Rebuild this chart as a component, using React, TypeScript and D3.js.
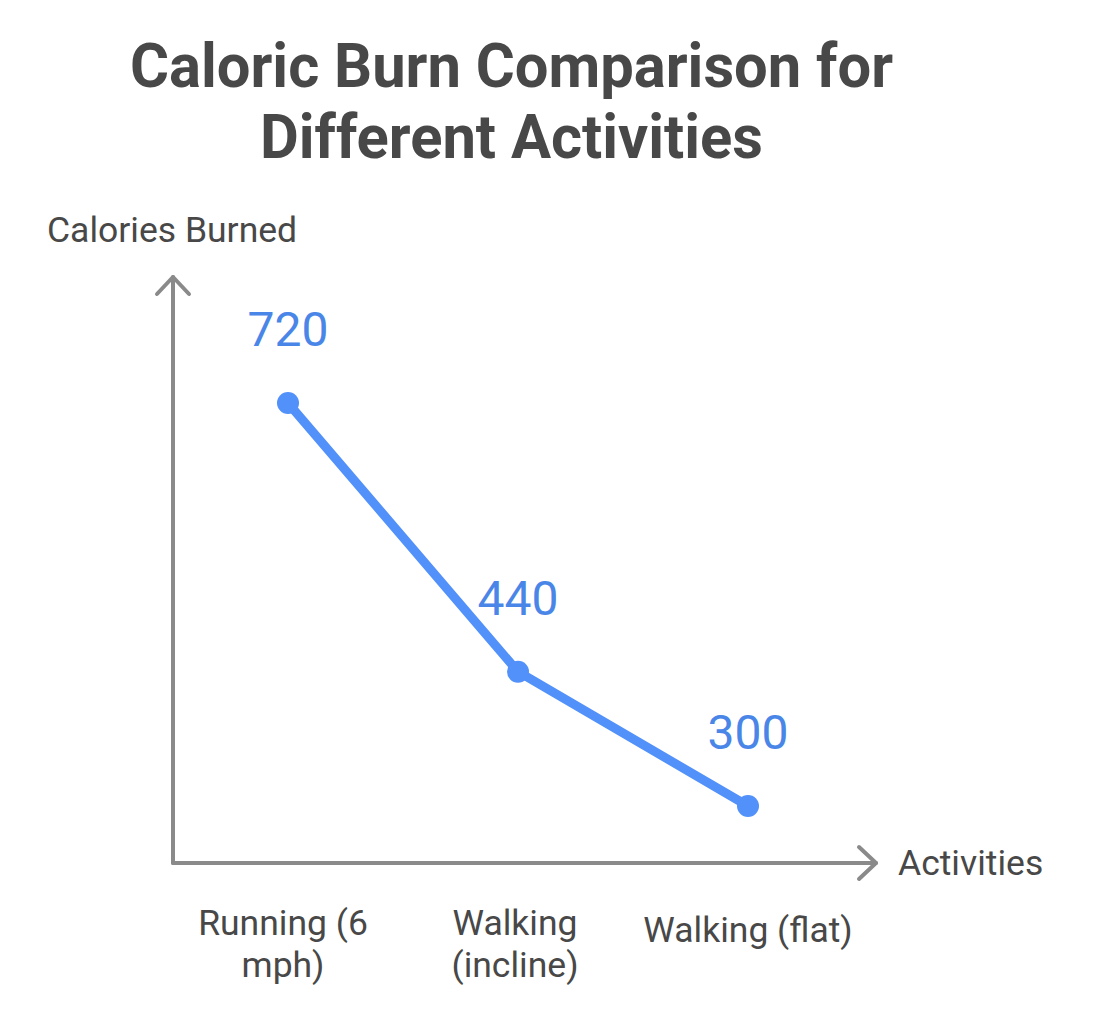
import React from "react";
import * as d3 from "d3";

const titleLines = ["Caloric Burn Comparison for", "Different Activities"];
const categories = ["Running (6 mph)", "Walking (incline)", "Walking (flat)"];
const categoryLines = [["Running (6", "mph)"], ["Walking", "(incline)"], ["Walking (flat)"]];
const calories = [720, 440, 300];
const yAxisLabel = "Calories Burned";
const xAxisLabel = "Activities";

const W = 1095;
const H = 1018;
const FONT = "Roboto, 'Noto Sans', sans-serif";
const TEXT = "#484848";
const AXIS = "#8a8a8a";
const LINE = "#5291f9";
const LABEL = "#4a86e8";

export default function App() {
  const x = d3.scalePoint<string>().domain(categories).range([288, 748]);
  const y = d3.scaleLinear().domain([300, 720]).range([806, 403]);
  const ox = 173;
  const oy = 863;
  const line = d3
    .line<number>()
    .x((_, i) => x(categories[i]) as number)
    .y((d) => y(d));

  return (
    <svg width={W} height={H} style={{ position: "absolute", left: 0, top: 0 }}>
      <rect width={W} height={H} fill="#fff" />
      <text x={511.5} y={87} textAnchor="middle" fontFamily={FONT} fontWeight={700} fontSize={62} fill={TEXT} textLength={763} lengthAdjust="spacingAndGlyphs">{titleLines[0]}</text>
      <text x={511.5} y={158} textAnchor="middle" fontFamily={FONT} fontWeight={700} fontSize={62} fill={TEXT} textLength={503} lengthAdjust="spacingAndGlyphs">{titleLines[1]}</text>

      <text x={47} y={242} fontFamily={FONT} fontSize={35.5} fill={TEXT}>{yAxisLabel}</text>
      <text x={898} y={875} fontFamily={FONT} fontSize={35.5} fill={TEXT}>{xAxisLabel}</text>

      <g stroke={AXIS} strokeWidth={4} fill="none" strokeLinecap="round" strokeLinejoin="round">
        <path d={`M${ox},${oy} L${ox},277`} />
        <path d={`M${ox - 16},294 L${ox},277 L${ox + 16},294`} />
        <path d={`M${ox},${oy} L876,${oy}`} />
        <path d={`M859,847 L876,${oy} L859,879`} />
      </g>

      <path d={line(calories) || ""} fill="none" stroke={LINE} strokeWidth={9} strokeLinejoin="round" />
      {calories.map((v, i) => (
        <g key={categories[i]}>
          <circle cx={x(categories[i])} cy={y(v)} r={11} fill={LINE} />
          <text x={x(categories[i])} y={y(v) - 57} textAnchor="middle" fontFamily={FONT} fontSize={48} fill={LABEL}>{v}</text>
        </g>
      ))}

      {categoryLines.map((lines, i) => (
        <text key={categories[i]} textAnchor="middle" fontFamily={FONT} fontSize={35.5} fill={TEXT}>
          {lines.map((l, j) => (
            <tspan key={j} x={x(categories[i])! - (i === 0 ? 5 : i === 1 ? 3 : 0)} y={(lines.length === 1 ? 942 : 935) + j * 42}>{l}</tspan>
          ))}
        </text>
      ))}
    </svg>
  );
}
